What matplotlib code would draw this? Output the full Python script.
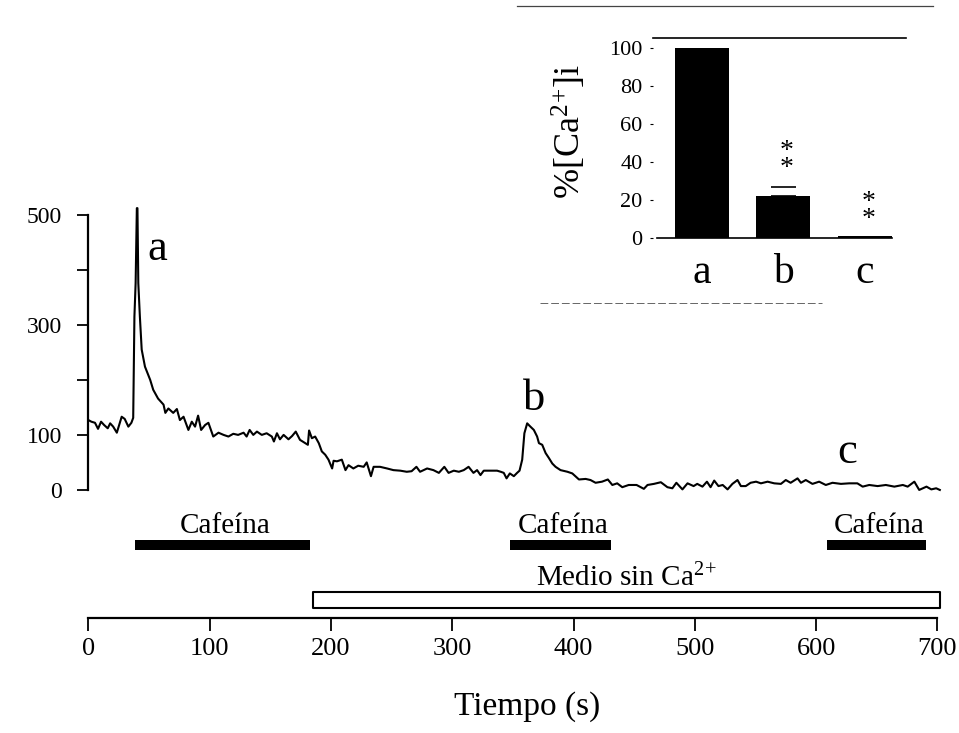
import matplotlib
matplotlib.use('Agg')
import matplotlib.pyplot as plt
from matplotlib.lines import Line2D

plt.rcParams['font.family'] = ['Liberation Serif', 'DejaVu Serif']
plt.rcParams['mathtext.fontset'] = 'custom'
plt.rcParams['mathtext.rm'] = 'Liberation Serif'

# [Ca2+]i trace (nM) vs time (s)
tiempo = [0, 2.5, 5.5, 8, 10.5, 13, 16, 18, 20.5, 23.5, 27.5, 30, 33, 35.5, 37, 38, 39, 40, 40.5,
          41.2, 42.5, 44, 46.7, 51, 53.5, 55, 57.5, 62, 63.5, 66, 70, 73, 75.5, 78.5, 82.5, 85.3,
          88, 90.5, 93, 96.3, 99, 103, 107.3, 111.5, 115.5, 119.5, 123.5, 128, 130.5, 133, 136,
          139, 143, 147, 151.3, 153, 155.5, 158, 161, 165, 168, 171, 174.5, 178.8, 181, 182,
          184.3, 187, 190, 192.5, 195.3, 198, 201, 202.2, 205, 209, 212, 214.5, 218.5, 222.5,
          227, 229.5, 233, 235.2, 240.5, 246.3, 251.5, 257.2, 262.5, 266.5, 270.5, 273.5, 279.3,
          284.5, 289, 293.5, 297, 301.3, 305.5, 309.5, 313.5, 317.5, 320.5, 323.3, 326, 331.5,
          337, 340, 342.5, 344.8, 347.5, 350.8, 353.5, 355.5, 357.7, 359.5, 361.8, 364, 367.3,
          370, 371.5, 374.2, 377, 379.7, 382.5, 385.2, 389.3, 395, 399, 404.5, 410, 414, 418.2,
          423.5, 428.3, 432, 436, 440.2, 445.5, 452, 458, 461, 466.3, 472, 477.4, 481.5, 484.8,
          489.8, 494, 499, 502, 506.3, 510, 513, 516, 519.5, 523, 527, 531, 535.2, 538, 542, 546,
          550.5, 554.5, 560, 565.5, 571, 575, 579, 584.7, 587.5, 591.5, 597, 602.5, 608, 613.5,
          620.5, 627.3, 634, 638.4, 643.8, 650.7, 657.5, 664.5, 671.5, 675.5, 681, 685, 691, 695,
          699, 702]
calcio = [127, 124, 122, 111, 124, 118, 112, 121, 115, 104, 133, 129, 115, 122, 131, 315, 376, 512, 512,
          376, 315, 255, 224, 200, 182, 176, 166, 155, 140, 148, 140, 147, 127, 133, 109, 124,
          115, 135, 109, 118, 122, 97, 104, 100, 97, 102, 100, 104, 97, 109, 100,
          106, 100, 103, 97, 88, 103, 92, 100, 92, 98, 106, 91, 85, 82, 108,
          94, 97, 85, 70, 64, 55, 39, 53, 52, 55, 36, 45, 39, 44,
          42, 50, 25, 42, 42, 39, 36, 35, 33, 34, 42, 33, 39,
          36, 31, 42, 31, 35, 33, 36, 42, 31, 36, 27, 35, 35,
          35, 33, 31, 21, 30, 25, 31, 35, 55, 103, 121, 116, 109,
          97, 85, 82, 67, 58, 48, 42, 36, 33, 30, 19, 20, 18, 13,
          15, 19, 9, 12, 5, 9, 9, 2, 9, 11, 14, 5, 3, 13,
          1, 12, 7, 11, 6, 15, 5, 17, 7, 9, 1, 11, 18, 7, 7, 13,
          15, 12, 15, 12, 11, 18, 13, 21, 13, 18, 11, 15, 9, 13,
          11, 12, 12, 6, 9, 7, 9, 6, 9, 6, 15, 0, 6, 1,
          3, 0]

# peak labels
picos = ['a', 'b', 'c']
picos_t = [49, 367.5, 625.5]
picos_y = [418, 145, 49]

# caffeine applications and Ca-free medium (start, end)
cafeina = [(38.5, 182.8), (347.6, 431), (609, 691)]
medio_sin_ca = (185, 702)

# inset: % of first response
categorias = ['a', 'b', 'c']
porcentaje = [100, 22, 1]
error_b = 5
signif_y = [None, 41.2, 14.3]

sup = r'$\mathregular{^{2}}$$\mathregular{^{+}}$'

fig = plt.figure(figsize=(9.59, 7.33), dpi=100)

ax = fig.add_axes([0.0921, 0.1514, 0.8917, 0.5744])
ax.plot(tiempo, calcio, color='black', lw=1.5)
ax.set_xlim(0, 705)
ax.set_ylim(-240, 525)

for s in ['top', 'right']:
    ax.spines[s].set_visible(False)
ax.spines['left'].set_bounds(0, 500)
ax.spines['bottom'].set_position(('data', -233))
ax.spines['bottom'].set_bounds(0, 700)
ax.spines['left'].set_linewidth(1.6)
ax.spines['bottom'].set_linewidth(1.6)

ax.set_yticks([0, 100, 200, 300, 400, 500])
ax.set_yticklabels(['0', '100', '', '300', '', '500'])
ax.tick_params(axis='y', length=8, width=1.3, pad=11, labelsize=17)
ax.set_xticks(range(0, 701, 100))
ax.tick_params(axis='x', length=9, width=1.3, pad=5, labelsize=19)

for lab, tx, ty in zip(picos, picos_t, picos_y):
    ha = 'left' if lab == 'a' else 'center'
    ax.text(tx, ty, lab, fontsize=32, ha=ha, va='baseline')

ax.broken_barh([(a, b - a) for a, b in cafeina], (-109, 18), facecolors='black')
for a, b in cafeina:
    ax.text((a + b) / 2 + 2, -78, 'Cafeína', fontsize=21, ha='center', va='baseline')

ax.broken_barh([(medio_sin_ca[0], medio_sin_ca[1] - medio_sin_ca[0])], (-215, 30),
               facecolors='white', edgecolors='black', linewidth=1.5)
ax.text(444, -176, 'Medio sin Ca' + sup, fontsize=21, ha='center', va='baseline')
ax.text(362, -409, 'Tiempo (s)', fontsize=24, ha='center', va='baseline')

# inset bar chart
ins = fig.add_axes([0.6809, 0.6753, 0.2634, 0.2729])
ins.bar(range(3), porcentaje, width=0.66, color='black')
ins.errorbar([1], [porcentaje[1]], yerr=[[0], [error_b]], fmt='none', ecolor='black',
             elinewidth=0, capsize=9, capthick=1.2)
ins.set_xlim(-0.6, 2.5)
ins.set_ylim(0, 105.3)
ins.spines['left'].set_visible(False)
ins.spines['right'].set_visible(False)
ins.spines['bottom'].set_bounds(-0.55, 2.33)
ins.spines['top'].set_linewidth(1.2)
ins.spines['bottom'].set_linewidth(1.2)
ins.set_xticks([])
ins.set_yticks(range(0, 101, 20))
ins.tick_params(axis='y', length=2.5, width=0.8, pad=5, labelsize=16)
for i, c in enumerate(categorias):
    ins.text(i, -23.7, c, fontsize=30, ha='center', va='baseline', clip_on=False)
    if signif_y[i] is not None:
        ins.text(i + 0.04, signif_y[i], '*\n*', fontsize=20, linespacing=0.6,
                 ha='center', va='center', clip_on=False)
ins.text(-0.329, 0.53, '%[Ca' + sup + ']i', transform=ins.transAxes, rotation=90,
         fontsize=26, ha='center', va='center')

# scan edges of the pasted inset
fig.add_artist(Line2D([517 / 959, 933 / 959], [1 - 6 / 733, 1 - 6 / 733], color='#444444', lw=0.9))
fig.add_artist(Line2D([540 / 959, 822 / 959], [1 - 303 / 733, 1 - 303 / 733], color='#666666',
                      lw=0.7, linestyle=(0, (8, 3))))

fig.savefig('out.png', dpi=100)
